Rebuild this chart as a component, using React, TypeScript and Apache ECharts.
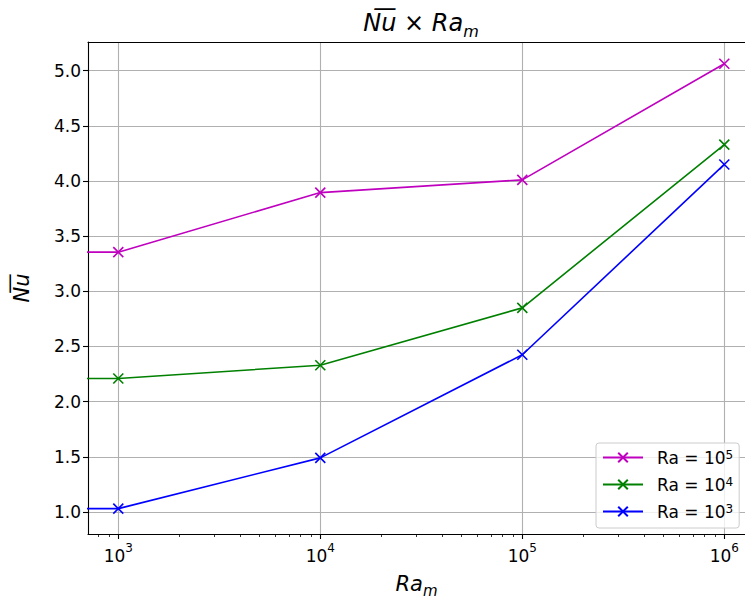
import React, { useEffect, useRef } from 'react';
import * as echarts from 'echarts';

// Data
const raM = [1e3, 1e4, 1e5, 1e6];
const leadRaM = 100; // the curves run horizontally in from the left edge
const nuRa1e5 = [3.355, 3.895, 4.01, 5.063];
const nuRa1e4 = [2.21, 2.33, 2.85, 4.33];
const nuRa1e3 = [1.03, 1.49, 2.425, 4.15];
const seriesExponents = ['5', '4', '3'];
const seriesNames = ['Ra = 10⁵', 'Ra = 10⁴', 'Ra = 10³'];
const seriesColors = ['#bf00bf', '#008000', '#0000ff'];
const seriesValues = [nuRa1e5, nuRa1e4, nuRa1e3];

const xMajorTicks = [1e3, 1e4, 1e5, 1e6];
const xMinorTicks = [
  800, 900,
  2000, 3000, 4000, 5000, 6000, 7000, 8000, 9000,
  20000, 30000, 40000, 50000, 60000, 70000, 80000, 90000,
  200000, 300000, 400000, 500000, 600000, 700000, 800000, 900000,
];
const yTicks = [1.0, 1.5, 2.0, 2.5, 3.0, 3.5, 4.0, 4.5, 5.0];

const FONT = 'DejaVu Sans';
// visible x range (the plot's right side is cut by the picture's edge)
const X_MIN = 708;
const X_MAX = 1.266e6;
const Y_MIN = 0.8;
const Y_MAX = 5.26;
const NU = 'N\u035Eu';

export default function App() {
  const ref = useRef<HTMLDivElement>(null);

  useEffect(() => {
    if (!ref.current) return;
    const chart = echarts.init(ref.current, undefined, { renderer: 'svg' });

    const xSymbol = 'path://M0,0L10,10M10,0L0,10';

    const series = seriesNames.map((name, k) => ({
      name,
      type: 'line',
      xAxisIndex: 0,
      yAxisIndex: 0,
      clip: true,
      symbol: xSymbol,
      symbolSize: 10,
      showAllSymbol: true,
      lineStyle: { color: seriesColors[k], width: 1.6 },
      itemStyle: { color: seriesColors[k], borderColor: seriesColors[k], borderWidth: 1.6 },
      emphasis: { disabled: true },
      data: [
        { value: [leadRaM, seriesValues[k][0]], symbol: 'none' },
        ...raM.map((x, i) => [x, seriesValues[k][i]]),
      ],
    }));

    const option: any = {
      animation: false,
      textStyle: { fontFamily: FONT },
      grid: {
        left: 88,
        top: 42,
        width: 657,
        height: 497,
        show: false,
      },
      graphic: [
        {
          type: 'text',
          x: 421,
          y: 23,
          style: {
            text: `{i|${NU}}{n| × }{i|Ra}{s|m}`,
            align: 'center',
            verticalAlign: 'middle',
            fill: '#000',
            fontFamily: FONT,
            rich: {
              i: { fontSize: 24, fontStyle: 'italic', fontFamily: FONT, lineHeight: 32, verticalAlign: 'middle', fill: '#000' },
              n: { fontSize: 24, fontFamily: FONT, lineHeight: 32, verticalAlign: 'middle', fill: '#000' },
              s: { fontSize: 16, fontStyle: 'italic', fontFamily: FONT, lineHeight: 16, verticalAlign: 'bottom', fill: '#000' },
            },
          },
        },
      ],
      legend: {
        orient: 'vertical',
        left: 596,
        top: 443,
        padding: [6, 6, 8, 6],
        itemWidth: 40,
        itemHeight: 12,
        itemGap: 10,
        backgroundColor: 'rgba(255,255,255,0.8)',
        borderColor: '#cccccc',
        borderWidth: 1,
        borderRadius: 3,
        data: seriesNames,
        formatter: (name: string) => {
          const i = seriesNames.indexOf(name);
          return `{t|Ra = 10}{e|${seriesExponents[i]}}`;
        },
        textStyle: {
          fontFamily: FONT,
          fontSize: 17,
          color: '#000',
          padding: [0, 0, 0, 9],
          rich: {
            t: { fontSize: 17, fontFamily: FONT, color: '#000', lineHeight: 17, verticalAlign: 'bottom' },
            e: { fontSize: 12, fontFamily: FONT, color: '#000', lineHeight: 12, verticalAlign: 'top' },
          },
        },
      },
      xAxis: [
        {
          type: 'log',
          logBase: 10,
          min: X_MIN,
          max: X_MAX,
          position: 'bottom',
          axisLine: { show: true, lineStyle: { color: '#000', width: 1.1 } },
          axisTick: {
            show: true,
            inside: false,
            length: 5,
            customValues: xMajorTicks,
            lineStyle: { color: '#000', width: 1.1 },
          },
          axisLabel: {
            show: true,
            margin: 8,
            customValues: xMajorTicks,
            formatter: (v: number) => `{b|10}{e|${Math.round(Math.log10(v))}}`,
            rich: {
              b: { fontSize: 17, fontFamily: FONT, color: '#000', lineHeight: 22, verticalAlign: 'bottom' },
              e: { fontSize: 12, fontFamily: FONT, color: '#000', lineHeight: 12, verticalAlign: 'top' },
            },
          },
          splitLine: { show: true, lineStyle: { color: '#b0b0b0', width: 1.1 } },
          name: '{i|Ra}{s|m}',
          nameLocation: 'middle',
          nameGap: 36,
          nameTextStyle: {
            rich: {
              i: { fontSize: 21, fontStyle: 'italic', fontFamily: FONT, color: '#000', lineHeight: 28, verticalAlign: 'middle' },
              s: { fontSize: 15, fontStyle: 'italic', fontFamily: FONT, color: '#000', lineHeight: 15, verticalAlign: 'bottom' },
            },
          },
        },
        {
          type: 'log',
          logBase: 10,
          min: X_MIN,
          max: X_MAX,
          position: 'bottom',
          axisLine: { show: false },
          axisLabel: { show: false },
          splitLine: { show: false },
          axisTick: {
            show: true,
            length: 3,
            customValues: xMinorTicks,
            lineStyle: { color: '#000', width: 0.8 },
          },
        },
        {
          type: 'log',
          logBase: 10,
          min: X_MIN,
          max: X_MAX,
          position: 'top',
          axisLine: { show: true, lineStyle: { color: '#000', width: 1.1 } },
          axisLabel: { show: false },
          axisTick: { show: false },
          splitLine: { show: false },
        },
      ],
      yAxis: {
        type: 'value',
        min: Y_MIN,
        max: Y_MAX,
        axisLine: { show: true, lineStyle: { color: '#000', width: 1.1 } },
        axisTick: {
          show: true,
          length: 5,
          customValues: yTicks,
          lineStyle: { color: '#000', width: 1.1 },
        },
        axisLabel: {
          show: true,
          margin: 7,
          customValues: yTicks,
          fontSize: 17,
          fontFamily: FONT,
          color: '#000',
          formatter: (v: number) => v.toFixed(1),
        },
        splitLine: { show: true, lineStyle: { color: '#b0b0b0', width: 1.1 } },
        name: `{i|${NU}}`,
        nameLocation: 'middle',
        nameRotate: 90,
        nameGap: 56,
        nameTextStyle: {
          rich: {
            i: { fontSize: 21, fontStyle: 'italic', fontFamily: FONT, color: '#000' },
          },
        },
      },
      series,
    };

    chart.setOption(option);
    return () => chart.dispose();
  }, []);

  return (
    <div
      ref={ref}
      style={{ position: 'absolute', left: 0, top: 0, width: 745, height: 603, overflow: 'hidden', background: '#fff' }}
    />
  );
}
